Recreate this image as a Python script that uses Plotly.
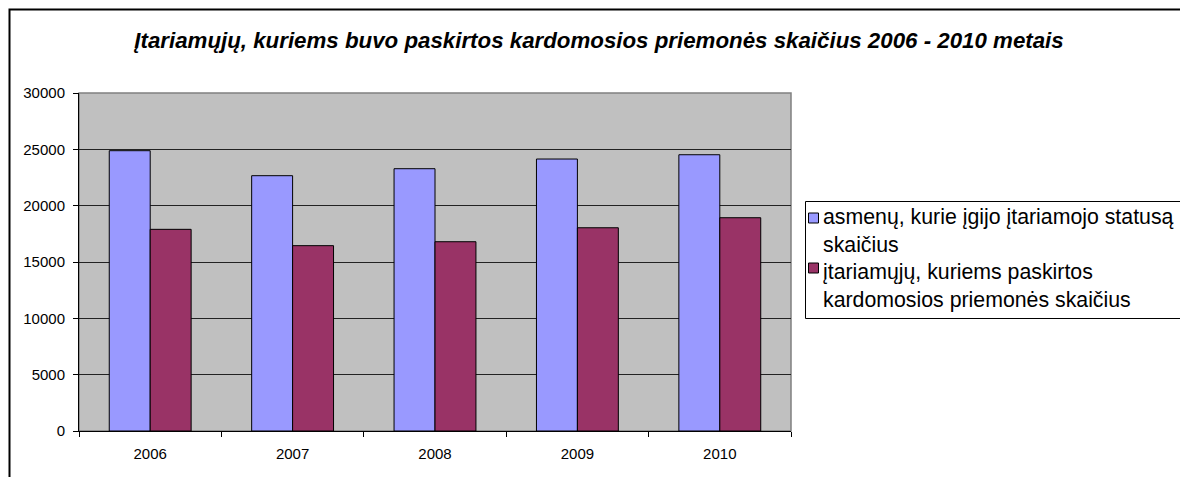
import plotly.graph_objects as go

years = ["2006", "2007", "2008", "2009", "2010"]
suspects_status = [24880, 22660, 23280, 24140, 24520]
measures_applied = [17900, 16450, 16800, 18040, 18930]
y_ticks = [0, 5000, 10000, 15000, 20000, 25000, 30000]

name1 = "asmenų, kurie įgijo įtariamojo statusą<br>skaičius"
name2 = "įtariamųjų, kuriems paskirtos<br>kardomosios priemonės skaičius"
title = "Įtariamųjų, kuriems buvo paskirtos kardomosios priemonės skaičius 2006 - 2010 metais"
colors = ["#9999FF", "#993366"]

# page body has an 8px margin; work in figure coordinates
OFF = 8
W, H = 1188 - OFF, 477 - OFF
L, R, T, B = 79 - OFF, 791 - OFF, 93 - OFF, 431 - OFF


def px(x):
    return (x - OFF - L) / (R - L)


def py(y):
    return (B - (y - OFF)) / (B - T)


fig = go.Figure()
for name, vals, col in [(name1, suspects_status, colors[0]), (name2, measures_applied, colors[1])]:
    fig.add_trace(go.Bar(x=years, y=vals, name=name,
                         marker=dict(color=col, line=dict(color="#000000", width=1))))

shapes = [
    dict(type="rect", xref="paper", yref="paper", x0=0, x1=1, y0=0, y1=1,
         line=dict(color="#808080", width=1.5), layer="below"),
    # outer chart frame
    dict(type="rect", xref="paper", yref="paper",
         x0=px(9.5), x1=px(1210), y0=py(500), y1=py(9.5),
         line=dict(color="#000000", width=2)),
    # legend frame
    dict(type="rect", xref="paper", yref="paper",
         x0=px(805.5), x1=px(1210), y0=py(318.5), y1=py(201.5),
         line=dict(color="#000000", width=1), fillcolor="white"),
]
annotations = []
legend_items = [(name1, colors[0], 218, 231), (name2, colors[1], 268, 286)]
for name, col, sym_y, txt_y in legend_items:
    shapes.append(dict(type="rect", xref="paper", yref="paper",
                       x0=px(808.5), x1=px(818.5), y0=py(sym_y + 5), y1=py(sym_y - 5),
                       line=dict(color="#000000", width=1), fillcolor=col))
    annotations.append(dict(text=name, xref="paper", yref="paper", x=px(821), y=py(txt_y),
                            xanchor="left", yanchor="middle", align="left", showarrow=False,
                            font=dict(size=21.3, color="#000000")))

fig.update_layout(
    width=W, height=H,
    margin=dict(l=L, r=W - R, t=T, b=H - B, autoexpand=False),
    paper_bgcolor="white",
    plot_bgcolor="#C0C0C0",
    barmode="group",
    bargap=0.425,
    bargroupgap=0,
    showlegend=False,
    font=dict(family="Arial, Liberation Sans, sans-serif", color="#000000"),
    title=dict(text="<b><i>" + title + "</i></b>", x=(599 - OFF) / W, xanchor="center",
               y=1 - (40 - OFF) / H, yanchor="middle", font=dict(size=22.3)),
    xaxis=dict(type="category", showline=True, linecolor="#000000", linewidth=1,
               ticks="outside", ticklen=5, tickcolor="#000000", tickson="boundaries",
               tickfont=dict(size=15), showgrid=False, ticklabelstandoff=9),
    yaxis=dict(range=[0, 30000], tickvals=y_ticks, tickformat="d", showline=True,
               linecolor="#000000", linewidth=1, ticks="outside", ticklen=5,
               tickcolor="#000000", tickfont=dict(size=15), showgrid=True,
               gridcolor="#222222", gridwidth=1.2, zeroline=False, ticklabelstandoff=5),
    shapes=shapes,
    annotations=annotations,
)

fig.write_html("out.html")
